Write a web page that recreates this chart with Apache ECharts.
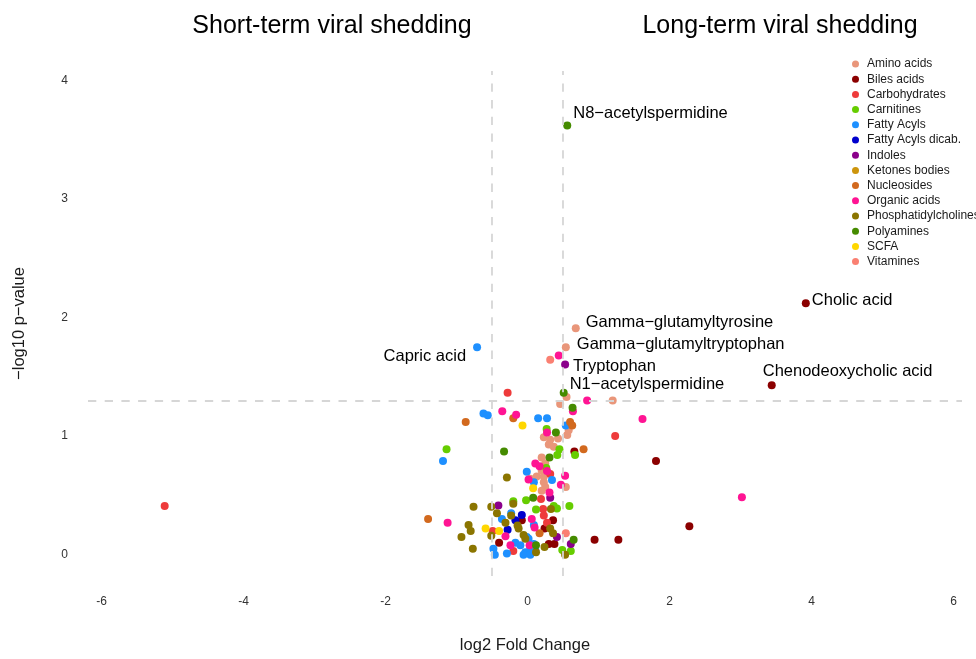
<!DOCTYPE html>
<html>
<head>
<meta charset="utf-8">
<title>Volcano plot</title>
<script src="https://cdn.jsdelivr.net/npm/echarts@6.0.0/dist/echarts.min.js"></script>
<style>
html, body { margin: 0; padding: 0; background: #fff; }
#chart { width: 976px; height: 659px; }
</style>
</head>
<body>
<div id="chart"></div>
<script>
// metabolite classes, in legend order
var categories = ['Amino acids', 'Biles acids', 'Carbohydrates', 'Carnitines', 'Fatty Acyls',
	'Fatty Acyls dicab.', 'Indoles', 'Ketones bodies', 'Nucleosides', 'Organic acids',
	'Phosphatidylcholines', 'Polyamines', 'SCFA', 'Vitamines'];

// points: [log2 fold change, -log10 p-value, optional label]
var aminoAcids = [[0.68, 1.91, 'Gamma−glutamyltyrosine'], [0.54, 1.75, 'Gamma−glutamyltryptophan'],
	[0.55, 1.33], [1.20, 1.30], [0.46, 1.27], [0.23, 0.99], [0.32, 0.97], [0.43, 0.98], [0.30, 0.93],
	[0.37, 0.91], [0.56, 1.01], [0.58, 1.05], [0.20, 0.82], [0.25, 0.77], [0.20, 0.71], [0.23, 0.66],
	[0.13, 0.66], [0.23, 0.61], [0.25, 0.57], [0.20, 0.54], [0.54, 0.57], [0.04, 0.64]];
var bilesAcids = [[3.92, 2.12, 'Cholic acid'], [3.44, 1.43, 'Chenodeoxycholic acid'], [1.81, 0.79],
	[2.28, 0.24], [1.28, 0.125], [0.945, 0.125], [0.66, 0.87], [-0.08, 0.29], [0.36, 0.29],
	[0.24, 0.22], [-0.40, 0.10], [0.30, 0.09], [0.38, 0.09]];
var carbohydrates = [[-5.11, 0.41], [-0.28, 1.365], [1.235, 1.00], [0.32, 0.68], [0.19, 0.47],
	[0.22, 0.385], [0.23, 0.33], [0.275, 0.27], [-0.49, 0.20], [-0.20, 0.03]];
var carnitines = [[-1.14, 0.89], [0.27, 1.06], [0.45, 0.89], [0.42, 0.84], [0.67, 0.84], [0.265, 0.73],
	[-0.02, 0.46], [0.59, 0.41], [0.12, 0.38], [0.37, 0.41], [0.415, 0.39], [-0.20, 0.45],
	[0.49, 0.04], [0.61, 0.03]];
var fattyAcyls = [[-0.71, 1.75, 'Capric acid'], [-0.62, 1.19], [-0.56, 1.175], [0.15, 1.15], [0.275, 1.15],
	[0.54, 1.09], [-1.19, 0.79], [-0.01, 0.70], [0.09, 0.61], [0.345, 0.63], [-0.36, 0.30], [-0.23, 0.35],
	[0.09, 0.25], [-0.01, 0.15], [-0.48, 0.05], [-0.46, 0.00], [-0.29, 0.01], [-0.17, 0.10], [-0.10, 0.08],
	[-0.03, 0.02], [0.04, 0.05], [0.09, 0.09], [0.11, 0.04], [-0.055, 0.00], [0.04, 0.00], [0.015, 0.135]];
var fattyAcylsDicab = [[-0.08, 0.335], [-0.17, 0.29], [-0.28, 0.21]];
var indoles = [[0.53, 1.605, 'Tryptophan'], [0.32, 0.48], [-0.41, 0.415], [0.415, 0.15], [0.61, 0.09]];
var ketonesBodies = [];
var nucleosides = [[-0.87, 1.12], [-0.20, 1.15], [0.60, 1.12], [0.63, 1.09], [0.79, 0.89], [-1.40, 0.30],
	[0.17, 0.18]];
var organicAcids = [[0.44, 1.68], [0.84, 1.30], [1.62, 1.145], [3.02, 0.485], [0.64, 1.21], [-0.355, 1.21],
	[-0.16, 1.18], [0.275, 1.03], [0.11, 0.77], [0.17, 0.745], [0.275, 0.705], [0.53, 0.665], [0.47, 0.59],
	[0.015, 0.635], [0.31, 0.525], [-1.125, 0.27], [0.06, 0.30], [-0.31, 0.155], [-0.24, 0.08],
	[0.03, 0.08], [0.10, 0.23]];
var phosphatidylcholines = [[-0.29, 0.65], [-0.76, 0.405], [-0.51, 0.405], [-0.20, 0.43], [-0.43, 0.35],
	[-0.23, 0.33], [-0.31, 0.27], [-0.83, 0.25], [-0.80, 0.20], [-0.93, 0.15], [-0.77, 0.05], [-0.51, 0.16],
	[-0.14, 0.245], [-0.125, 0.22], [-0.055, 0.165], [0.33, 0.385], [0.32, 0.22], [0.36, 0.18],
	[0.24, 0.065], [0.12, 0.02], [0.53, 0.00], [-0.03, 0.135]];
var polyamines = [[0.56, 3.62, 'N8−acetylspermidine'], [0.51, 1.365, 'N1−acetylspermidine'], [0.635, 1.24],
	[0.40, 1.03], [0.31, 0.82], [-0.33, 0.87], [0.08, 0.48], [0.65, 0.125], [0.12, 0.08]];
var scfa = [[-0.07, 1.09], [0.08, 0.56], [-0.59, 0.22], [-0.40, 0.20]];
var vitamines = [[0.32, 1.645], [0.54, 0.18]];

var groups = [aminoAcids, bilesAcids, carbohydrates, carnitines, fattyAcyls, fattyAcylsDicab, indoles,
	ketonesBodies, nucleosides, organicAcids, phosphatidylcholines, polyamines, scfa, vitamines];

var colors = ['#E9967A', '#8B0000', '#EE3B3B', '#66CD00', '#1E90FF', '#0000CD', '#8B008B',
	'#CD950C', '#D2691E', '#FF1493', '#8B7500', '#458B00', '#FFD700', '#FA8072'];

var xTicks = [-6, -4, -2, 0, 2, 4, 6];
var yTicks = [0, 1, 2, 3, 4];
var foldCut = [-0.5, 0.5];
var pCut = 1.3;

// where each text label sits next to its point
var labelPlace = {
	'N8−acetylspermidine': { position: 'right', distance: 2, offset: [0, -12] },
	'Cholic acid': { position: 'right', distance: 2, offset: [0, -3] },
	'Gamma−glutamyltyrosine': { position: 'right', distance: 6, offset: [0, -6] },
	'Gamma−glutamyltryptophan': { position: 'right', distance: 7, offset: [0, -3] },
	'Tryptophan': { position: 'right', distance: 4, offset: [0, 2] },
	'N1−acetylspermidine': { position: 'right', distance: 2, offset: [0, -8] },
	'Capric acid': { position: 'left', distance: 7, offset: [0, 9] },
	'Chenodeoxycholic acid': { position: 'right', distance: 0, offset: [-13, -14] }
};

var font = "'Liberation Sans', Arial, sans-serif";

var series = categories.map(function (name, i) {
	return {
		type: 'scatter',
		name: name,
		symbolSize: 8,
		itemStyle: { color: colors[i], opacity: 1 },
		data: groups[i].map(function (p) {
			var item = { value: [p[0], p[1]] };
			if (p[2]) {
				var lp = labelPlace[p[2]];
				item.name = p[2];
				item.label = {
					show: true, formatter: p[2], position: lp.position, distance: lp.distance,
					offset: lp.offset, color: '#000', fontSize: 16.5, fontFamily: font
				};
			}
			return item;
		})
	};
});

// threshold lines
series.unshift({
	type: 'scatter',
	name: 'thresholds',
	data: [],
	z: 1,
	silent: true,
	markLine: {
		silent: true,
		symbol: 'none',
		label: { show: false },
		lineStyle: { color: '#d6d6d6', width: 1.8, type: [8.3, 8.4] },
		data: [{ xAxis: foldCut[0] }, { xAxis: foldCut[1] }, { yAxis: pCut }]
	}
});

var myChart = echarts.init(document.getElementById('chart'), null, { renderer: 'canvas' });
var chartOption = {
	animation: false,
	backgroundColor: '#fff',
	textStyle: { fontFamily: font },
	title: [
		{ text: 'Short-term viral shedding', left: 327, top: 9, textAlign: 'center',
			textStyle: { fontSize: 25, fontWeight: 'normal', color: '#000', fontFamily: font } },
		{ text: 'Long-term viral shedding', left: 775, top: 9, textAlign: 'center',
			textStyle: { fontSize: 25, fontWeight: 'normal', color: '#000', fontFamily: font } }
	],
	legend: {
		data: categories,
		orient: 'vertical',
		left: 847,
		top: 53,
		icon: 'circle',
		itemWidth: 7,
		itemHeight: 7,
		itemGap: 3.2,
		textStyle: { fontSize: 12, lineHeight: 12, color: '#1a1a1a', fontFamily: font, padding: [0, 0, 0, 3] }
	},
	grid: { left: 88, right: 14, top: 71, bottom: 78 },
	xAxis: {
		type: 'value',
		min: -6.19,
		max: 6.12,
		name: 'log2 Fold Change',
		nameLocation: 'middle',
		nameGap: 61,
		nameTextStyle: { fontSize: 16.5, color: '#1a1a1a', fontFamily: font },
		axisLine: { show: false },
		axisTick: { show: false },
		splitLine: { show: false },
		axisLabel: { customValues: xTicks, color: '#333', fontSize: 12, margin: 20, fontFamily: font }
	},
	yAxis: {
		type: 'value',
		min: -0.18,
		max: 4.08,
		name: '−log10 p−value',
		nameLocation: 'middle',
		nameGap: 60,
		nameTextStyle: { fontSize: 16.5, color: '#1a1a1a', fontFamily: font },
		axisLine: { show: false },
		axisTick: { show: false },
		splitLine: { show: false },
		axisLabel: { customValues: yTicks, color: '#333', fontSize: 12, margin: 20, fontFamily: font }
	},
	series: series
};
myChart.setOption(chartOption);
</script>
</body>
</html>
